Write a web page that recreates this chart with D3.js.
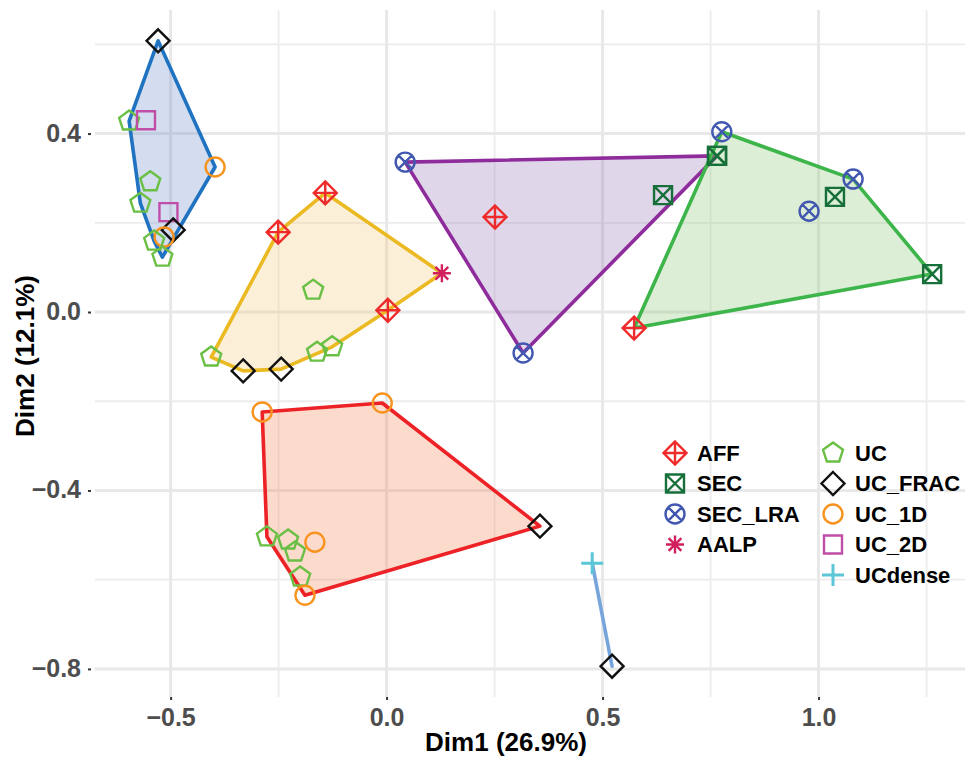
<!DOCTYPE html>
<html><head><meta charset="utf-8">
<script src="https://cdn.jsdelivr.net/npm/d3@7"></script>
<style>
html,body{margin:0;padding:0;background:#fff;}
svg{display:block;font-family:"Liberation Sans",Arial,Helvetica,sans-serif;}
</style></head>
<body>
<svg id="chart" width="965" height="758"></svg>
<script>
// ---- data (type, Dim1, Dim2) ----
const types = ["AFF","SEC","SEC_LRA","AALP","UC","UC_FRAC","UC_1D","UC_2D","UCdense"];
const typeColors = ["#ee2a2a","#17703a","#4258b0","#d21f5e","#6abf45","#111111","#f7931e","#c04ea8","#5bc6d8"];

const clusterBlue = [
  ["UC_FRAC",-0.529,0.608],["UC",-0.596,0.428],["UC_2D",-0.557,0.430],["UC_1D",-0.397,0.325],
  ["UC",-0.547,0.292],["UC",-0.570,0.244],["UC_2D",-0.505,0.224],["UC_FRAC",-0.494,0.184],
  ["UC_1D",-0.515,0.168],["UC",-0.538,0.159],["UC",-0.519,0.123]
];
const clusterYellow = [
  ["AFF",-0.142,0.267],["AFF",-0.251,0.179],["AALP",0.128,0.087],["UC",-0.170,0.049],
  ["AFF",0.003,0.004],["UC",-0.406,-0.101],["UC",-0.161,-0.090],["UC",-0.126,-0.078],
  ["UC_FRAC",-0.332,-0.132],["UC_FRAC",-0.244,-0.128]
];
const clusterPurple = [
  ["SEC_LRA",0.043,0.336],["AFF",0.251,0.213],["SEC",0.640,0.262],["SEC_LRA",0.316,-0.092],["SEC",0.765,0.350]
];
const clusterGreen = [
  ["SEC_LRA",0.776,0.404],["SEC",0.765,0.350],["SEC_LRA",1.080,0.298],["SEC",1.038,0.258],
  ["SEC_LRA",0.978,0.226],["SEC",1.263,0.085],["AFF",0.573,-0.036]
];
const clusterRed = [
  ["UC_1D",-0.288,-0.224],["UC_1D",-0.010,-0.204],["UC_FRAC",0.355,-0.480],["UC",-0.277,-0.504],
  ["UC",-0.228,-0.511],["UC",-0.212,-0.538],["UC_1D",-0.166,-0.516],["UC",-0.200,-0.594],["UC_1D",-0.189,-0.635]
];
const clusterLight = [
  ["UCdense",0.476,-0.563],["UC_FRAC",0.522,-0.794]
];

const clusters = [clusterBlue, clusterYellow, clusterPurple, clusterGreen, clusterRed, clusterLight];
const hullLine = ["#1f73c0","#ebb921","#8e2c9c","#3db54a","#ec2227","#76a5dc"];
const hullFill = ["#6c8eca","#f2ca7d","#9876b9","#8ec67a","#f58455","none"];

const xMajor = [-0.5,0.0,0.5,1.0];
const xMinor = [-0.25,0.25,0.75,1.25];
const yMajor = [0.4,0.0,-0.4,-0.8];
const yMinor = [0.6,0.2,-0.2,-0.6];
const xTitle = "Dim1 (26.9%)";
const yTitle = "Dim2 (12.1%)";

// ---- layout ----
const L=95, R=965, T=10, B=697;
const x = d3.scaleLinear().domain([-0.675,1.339]).range([L,R]);
const y = d3.scaleLinear().domain([0.677,-0.863]).range([T,B]);
const svg = d3.select("#chart");

const grid = svg.append("g");
grid.selectAll(".xmin").data(xMinor).join("line").attr("x1",d=>x(d)).attr("x2",d=>x(d)).attr("y1",T).attr("y2",B).attr("stroke","#ececec").attr("stroke-width",1.8);
grid.selectAll(".ymin").data(yMinor).join("line").attr("y1",d=>y(d)).attr("y2",d=>y(d)).attr("x1",L).attr("x2",R).attr("stroke","#ececec").attr("stroke-width",1.8);
grid.selectAll(".xmaj").data(xMajor).join("line").attr("x1",d=>x(d)).attr("x2",d=>x(d)).attr("y1",T).attr("y2",B).attr("stroke","#e8e8e8").attr("stroke-width",3);
grid.selectAll(".ymaj").data(yMajor).join("line").attr("y1",d=>y(d)).attr("y2",d=>y(d)).attr("x1",L).attr("x2",R).attr("stroke","#e8e8e8").attr("stroke-width",3);

// axes
const fmt = d=> (d<0?"\u2212":"") + Math.abs(d).toFixed(1);
const xAxis = svg.append("g").attr("transform",`translate(0,${B})`)
  .call(d3.axisBottom(x).tickValues(xMajor).tickSize(3).tickPadding(6).tickFormat(fmt));
const yAxis = svg.append("g").attr("transform",`translate(${L-4},0)`)
  .call(d3.axisLeft(y).tickValues(yMajor).tickSize(3).tickPadding(7).tickFormat(fmt));
[xAxis,yAxis].forEach(a=>{
  a.select(".domain").remove();
  a.selectAll(".tick line").attr("stroke","#333").attr("stroke-width",2);
  a.selectAll(".tick text").attr("fill","#4d4d4d").attr("font-size",25).attr("font-weight","bold");
});
xAxis.selectAll(".tick text").attr("dy","0.8em");
yAxis.selectAll(".tick text").attr("dy","0.3em");

svg.append("text").attr("x",506).attr("y",751).attr("text-anchor","middle")
  .attr("font-size",26).attr("font-weight","bold").attr("fill","#000").text(xTitle);
svg.append("text").attr("transform","translate(34,356) rotate(-90)").attr("text-anchor","middle")
  .attr("font-size",26).attr("font-weight","bold").attr("fill","#000").text(yTitle);

// hulls
clusters.forEach((c,i)=>{
  const pts = c.map(p=>[x(p[1]),y(p[2])]);
  let hull = pts.length>=3 ? d3.polygonHull(pts) : pts;
  const path = "M"+hull.map(p=>p.join(",")).join("L")+"Z";
  svg.append("path").attr("d",path)
    .attr("fill",hullFill[i]).attr("fill-opacity",hullFill[i]==="none"?0:0.3)
    .attr("stroke",hullLine[i]).attr("stroke-width",3.6).attr("stroke-linejoin","round");
});

// marker shapes
function shapePath(t){
  const p = d3.path();
  if(t==="AFF"){ const r=11.5; p.moveTo(0,-r);p.lineTo(r,0);p.lineTo(0,r);p.lineTo(-r,0);p.closePath();
    p.moveTo(0,-r);p.lineTo(0,r);p.moveTo(-r,0);p.lineTo(r,0);}
  else if(t==="SEC"){ const h=9; p.rect(-h,-h,2*h,2*h); p.moveTo(-h,-h);p.lineTo(h,h);p.moveTo(h,-h);p.lineTo(-h,h);}
  else if(t==="SEC_LRA"){ const r=9.5; p.moveTo(r,0);p.arc(0,0,r,0,2*Math.PI); const k=r*0.7071;
    p.moveTo(-k,-k);p.lineTo(k,k);p.moveTo(k,-k);p.lineTo(-k,k);}
  else if(t==="AALP"){ const r=9; p.moveTo(0,-r);p.lineTo(0,r);p.moveTo(-r,0);p.lineTo(r,0); const k=r*0.7071;
    p.moveTo(-k,-k);p.lineTo(k,k);p.moveTo(k,-k);p.lineTo(-k,k);}
  else if(t==="UC"){ const r=10.5; for(let i=0;i<5;i++){const a=-Math.PI/2+i*2*Math.PI/5; const px=r*Math.cos(a), py=r*Math.sin(a); if(i===0)p.moveTo(px,py); else p.lineTo(px,py);} p.closePath();}
  else if(t==="UC_FRAC"){ const r=11.5; p.moveTo(0,-r);p.lineTo(r,0);p.lineTo(0,r);p.lineTo(-r,0);p.closePath();}
  else if(t==="UC_1D"){ const r=9.5; p.moveTo(r,0);p.arc(0,0,r,0,2*Math.PI);}
  else if(t==="UC_2D"){ const h=9; p.rect(-h,-h,2*h,2*h);}
  else if(t==="UCdense"){ const r=11; p.moveTo(0,-r);p.lineTo(0,r);p.moveTo(-r,0);p.lineTo(r,0);}
  return p.toString();
}
const colorOf = t=>typeColors[types.indexOf(t)];
const strokeW = t=> (t==="UCdense"?3:2.4);

const allPts = clusters.flat();
svg.append("g").selectAll("path").data(allPts).join("path")
  .attr("transform",d=>`translate(${x(d[1])},${y(d[2])})`)
  .attr("d",d=>shapePath(d[0])).attr("fill","none")
  .attr("stroke",d=>colorOf(d[0])).attr("stroke-width",d=>strokeW(d[0])).attr("stroke-linejoin","miter");

// legend
const legCol1 = types.slice(0,4), legCol2 = types.slice(4);
const leg = svg.append("g");
function drawLegend(list, sx, tx, y0){
  list.forEach((t,i)=>{
    const yy = y0 + i*30.5;
    leg.append("path").attr("transform",`translate(${sx},${yy})`).attr("d",shapePath(t))
      .attr("fill","none").attr("stroke",colorOf(t)).attr("stroke-width",strokeW(t));
    leg.append("text").attr("x",tx).attr("y",yy).attr("dy","0.36em").attr("font-size",22)
      .attr("font-weight","bold").attr("fill","#000").text(t);
  });
}
drawLegend(legCol1, 675, 697, 453);
drawLegend(legCol2, 833, 855, 453);
</script>
</body></html>
